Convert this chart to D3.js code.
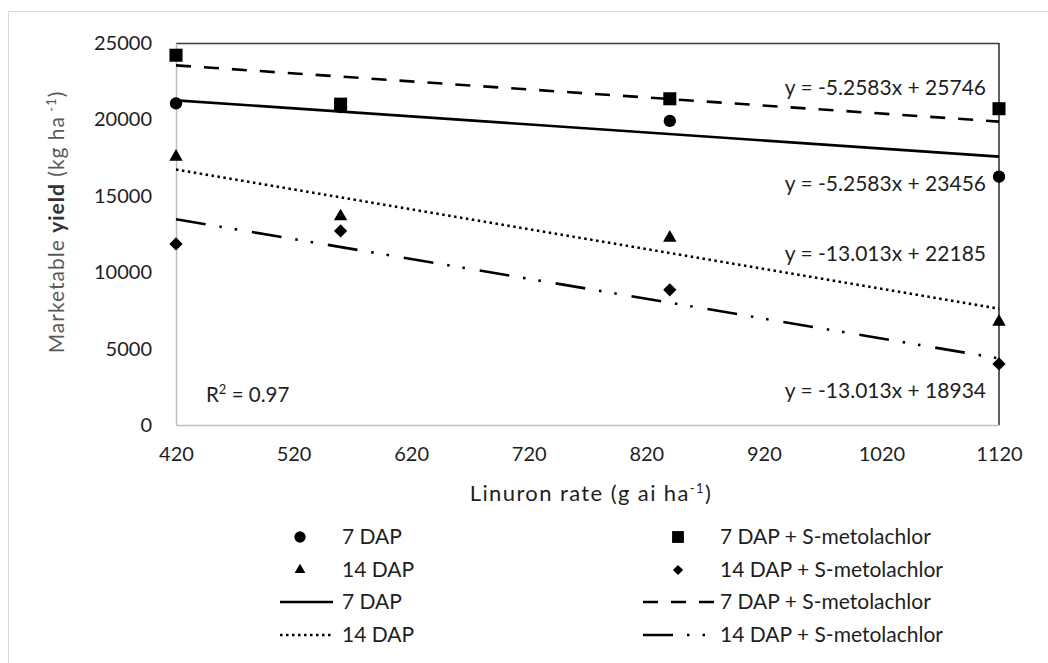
<!DOCTYPE html>
<html>
<head>
<meta charset="utf-8">
<script src="https://cdn.jsdelivr.net/npm/d3@7"></script>
<style>
  body { margin: 0; background: #fff; }
  svg text { font-family: Lato, "Open Sans", sans-serif; fill: #1e1e1e; }
</style>
</head>
<body>
<div id="chart"></div>
<script>
const width = 1048;
const height = 663;
const margin = { top: 43, right: 49, bottom: 238, left: 176 };

// linuron rates (g ai/ha)
const rates = [420, 560, 840, 1120];
const xTicks = [420, 520, 620, 720, 820, 920, 1020, 1120];
const yTicks = [0, 5000, 10000, 15000, 20000, 25000];

// observed marketable yield (kg/ha)
const dap7 = [21050, 20800, 19900, 16250];
const dap7S = [24200, 21000, 21350, 20700];
const dap14 = [17550, 13650, 12250, 6750];
const dap14S = [11850, 12700, 8850, 4000];

// fitted lines
const fitNames = ["7 DAP", "7 DAP + S-metolachlor", "14 DAP", "14 DAP + S-metolachlor"];
const slopes = [-5.2583, -5.2583, -13.013, -13.013];
const intercepts = [23456, 25746, 22185, 18934];
const equations = ["y = -5.2583x + 23456", "y = -5.2583x + 25746", "y = -13.013x + 22185", "y = -13.013x + 18934"];
const r2Label = "0.97";

const svg = d3.select("#chart").append("svg")
  .attr("width", width)
  .attr("height", height);

// outer frame
svg.append("rect")
  .attr("x", 8.5).attr("y", 11.5)
  .attr("width", width).attr("height", height)
  .attr("fill", "none").attr("stroke", "#d9d9d9");

const x = d3.scaleLinear()
  .domain([420, 1120])
  .range([margin.left, width - margin.right]);

const y = d3.scaleLinear()
  .domain([0, 25000])
  .range([height - margin.bottom, margin.top]);

const x0 = margin.left, x1 = width - margin.right;
const y0 = height - margin.bottom, y1 = margin.top;

// frame: top & right dark, left & bottom light
svg.append("line").attr("x1", x0).attr("x2", x1).attr("y1", y1 + 0.5).attr("y2", y1 + 0.5)
  .attr("stroke", "#3a3a3a").attr("stroke-width", 1.5);
svg.append("line").attr("x1", x1).attr("x2", x1).attr("y1", y1).attr("y2", y0)
  .attr("stroke", "#2a2a2a").attr("stroke-width", 1.5);

// axes
const xAxis = svg.append("g")
  .attr("transform", `translate(0, ${y0})`)
  .call(d3.axisBottom(x).tickValues(xTicks).tickSize(0).tickPadding(22).tickFormat(d3.format("d")));
xAxis.select(".domain").attr("stroke", "#bfbfbf").attr("stroke-width", 1.5);

const yAxis = svg.append("g")
  .attr("transform", `translate(${x0}, 0)`)
  .call(d3.axisLeft(y).tickValues(yTicks).tickSize(0).tickPadding(24).tickFormat(d3.format("d")));
yAxis.select(".domain").attr("stroke", "#bfbfbf").attr("stroke-width", 1.5);

svg.selectAll(".tick text")
  .style("font-size", "20px")
  .style("font-family", "Lato, sans-serif")
  .attr("fill", "#1e1e1e");

// axis titles
const xt = svg.append("text")
  .attr("x", 591).attr("y", 501)
  .attr("text-anchor", "middle")
  .style("font-size", "22px")
  .style("letter-spacing", "1.4px");
xt.append("tspan").text("Linuron rate (g ai ha");
xt.append("tspan").attr("dy", -8).style("font-size", "13px").text("-1");
xt.append("tspan").attr("dy", 8).text(")");

const yt = svg.append("text")
  .attr("transform", "translate(64, 222) rotate(-90)")
  .attr("text-anchor", "middle")
  .style("font-size", "21px")
  .style("letter-spacing", "1px")
  .style("fill", "#595959");
yt.append("tspan").text("Marketable ");
yt.append("tspan").style("font-weight", "bold").style("fill", "#333").text("yield");
yt.append("tspan").text(" (kg ha");
yt.append("tspan").attr("dy", -8).style("font-size", "13px").text(" -1");
yt.append("tspan").attr("dy", 8).text(")");

// trend lines
const dashes = ["none", "15,13", "2.5,3.5", "30,14,2.5,13,2.5,15"];
const lineGen = d3.line().x(d => x(d[0])).y(d => y(d[1]));

const fits = fitNames.map((name, i) => ({
  name, dash: dashes[i],
  pts: [420, 1120].map(r => [r, slopes[i] * r + intercepts[i]])
}));

svg.append("g").selectAll("path")
  .data(fits)
  .join("path")
  .attr("d", d => lineGen(d.pts))
  .attr("fill", "none")
  .attr("stroke", "#000")
  .attr("stroke-width", 2.6)
  .attr("stroke-dasharray", d => d.dash);

// markers
const shapes = {
  circle: d3.symbol().type(d3.symbolCircle).size(120),
  square: d3.symbol().type(d3.symbolSquare).size(170),
  triangle: d3.symbol().type(d3.symbolTriangle).size(78),
  diamond: d3.symbol().type(d3.symbolSquare).size(88)
};

const series = [
  { vals: dap7, shape: "circle" },
  { vals: dap7S, shape: "square" },
  { vals: dap14, shape: "triangle" },
  { vals: dap14S, shape: "diamond" }
];

series.forEach(s => {
  svg.append("g").selectAll("path")
    .data(rates.map((r, i) => [r, s.vals[i]]))
    .join("path")
    .attr("d", shapes[s.shape]())
    .attr("fill", "#000")
    .attr("transform", d => `translate(${x(d[0])}, ${y(d[1])})${s.shape === "diamond" ? " rotate(45)" : ""}`);
});

// equation labels, placed relative to each line's end
const eqOffsets = [27, -34, -55, 32];
svg.append("g").selectAll("text")
  .data(equations)
  .join("text")
  .attr("x", 986)
  .attr("y", (d, i) => y(slopes[i] * 1120 + intercepts[i]) + eqOffsets[i])
  .attr("dy", "0.35em")
  .attr("text-anchor", "end")
  .style("font-size", "21px")
  .text(d => d);

const r2 = svg.append("text")
  .attr("x", 206).attr("y", 402)
  .style("font-size", "20.5px");
r2.append("tspan").text("R");
r2.append("tspan").attr("dy", -8).style("font-size", "13px").text("2");
r2.append("tspan").attr("dy", 8).text(" = " + r2Label);

// legend
const legendRows = [
  { col: 0, row: 0, kind: "marker", shape: "circle", label: "7 DAP" },
  { col: 1, row: 0, kind: "marker", shape: "square", label: "7 DAP + S-metolachlor" },
  { col: 0, row: 1, kind: "marker", shape: "triangle", label: "14 DAP" },
  { col: 1, row: 1, kind: "marker", shape: "diamond", label: "14 DAP + S-metolachlor" },
  { col: 0, row: 2, kind: "line", dash: dashes[0], label: fitNames[0] },
  { col: 1, row: 2, kind: "line", dash: dashes[1], label: fitNames[1] },
  { col: 0, row: 3, kind: "line", dash: dashes[2], label: fitNames[2] },
  { col: 1, row: 3, kind: "line", dash: dashes[3], label: fitNames[3] }
];
const legendSizes = { circle: 100, square: 140, triangle: 50, diamond: 52 };
const colX = [
  { sym: 300, lineStart: 280, lineEnd: 333, text: 342 },
  { sym: 678, lineStart: 643, lineEnd: 717, text: 720 }
];
const rowY = [537, 570, 602, 635];

const legend = svg.append("g");
legendRows.forEach(d => {
  const c = colX[d.col], ly = rowY[d.row];
  if (d.kind === "marker") {
    legend.append("path")
      .attr("d", d3.symbol().type(d.shape === "circle" ? d3.symbolCircle : d.shape === "triangle" ? d3.symbolTriangle : d3.symbolSquare).size(legendSizes[d.shape])())
      .attr("fill", "#000")
      .attr("transform", `translate(${c.sym}, ${ly})${d.shape === "diamond" ? " rotate(45)" : ""}`);
  } else {
    legend.append("line")
      .attr("x1", c.lineStart).attr("x2", c.lineEnd)
      .attr("y1", ly).attr("y2", ly)
      .attr("stroke", "#000").attr("stroke-width", 2.6)
      .attr("stroke-dasharray", d.dash);
  }
  legend.append("text")
    .attr("x", c.text).attr("y", ly)
    .attr("dy", "0.35em")
    .style("font-size", "21px")
    .text(d.label);
});
</script>
</body>
</html>
